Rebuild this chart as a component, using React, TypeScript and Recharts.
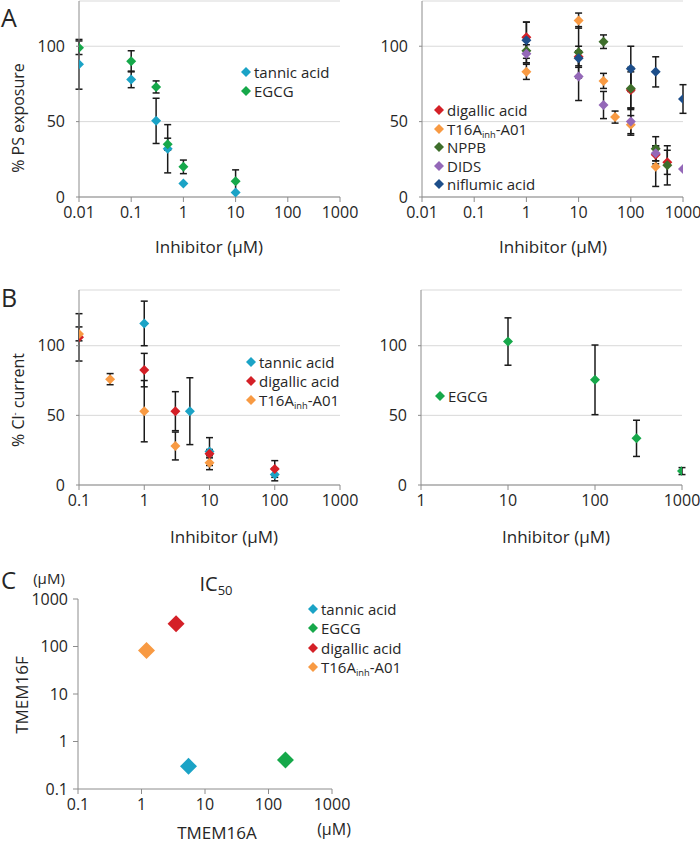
import React from "react";
import { ScatterChart, Scatter, XAxis, YAxis, CartesianGrid, ErrorBar } from "recharts";

const FONT = '"Open Sans", sans-serif';
const TEXT = "#262626";
const AXIS = "#8c8c8c";

const C_TANNIC = "#1ba3c6";
const C_EGCG = "#16a84a";
const C_DIGALLIC = "#d42027";
const C_T16A = "#f89a43";
const C_NPPB = "#3e6e2b";
const C_DIDS = "#9468b8";
const C_NIFLUMIC = "#1d4e8a";

// Panel A, left: PS exposure (%)
const aTannicDose = [0.01, 0.1, 0.3, 0.5, 1, 10];
const aTannicPct = [88, 78, 50.5, 32, 9, 3];
const aTannicErr = [16.5, 5.5, 15, 16, 0, 0];
const aEgcgDose = [0.01, 0.1, 0.3, 0.5, 1, 10];
const aEgcgPct = [99, 90, 73, 35, 20, 10.5];
const aEgcgErr = [4.5, 7, 4, 4, 4.5, 7.5];

// Panel A, right
const aDigallicDose = [1, 10, 100, 300, 500];
const aDigallicPct = [106, 93, 71, 28, 23];
const aDigallicErr = [10, 7, 12, 6, 8];
const aT16aDose = [1, 10, 30, 50, 100, 300];
const aT16aPct = [83, 117, 77, 53, 48, 20];
const aT16aErr = [5, 5, 5, 4, 6, 13];
const aNppbDose = [1, 10, 30, 100, 300, 500];
const aNppbPct = [97, 96, 103, 72, 32, 21];
const aNppbErr = [8, 17, 4.5, 14, 8, 13];
const aDidsDose = [1, 10, 30, 100, 300, 1000];
const aDidsPct = [95, 80, 61, 50, 29, 18.5];
const aDidsErr = [6, 16, 9, 9, 5, 0];
const aNiflumicDose = [1, 10, 100, 300, 1000];
const aNiflumicPct = [104, 92, 85, 83, 65];
const aNiflumicErr = [12, 5, 15, 10, 9.5];

// Panel B, left: Cl- current (%)
const bTannicDose = [1, 5, 10, 100];
const bTannicPct = [116, 53, 24, 7.5];
const bTannicErr = [16, 24, 10, 4.5];
const bDigallicDose = [0.1, 1, 3, 10, 100];
const bDigallicPct = [106, 82.5, 53, 22.5, 11.5];
const bDigallicErr = [17, 12, 14, 3, 6];
const bT16aDose = [0.1, 0.3, 1, 3, 10];
const bT16aPct = [108.5, 76, 53, 28, 16];
const bT16aErr = [5, 4, 22, 10, 5];

// Panel B, right
const bEgcgDose = [10, 100, 300, 1000];
const bEgcgPct = [103, 75.5, 33.5, 10];
const bEgcgErr = [17, 25, 13, 2.5];

// Panel C: IC50 (µM), TMEM16A vs TMEM16F
const icNames = ["tannic acid", "EGCG", "digallic acid", "T16A-A01"];
const ic16a = [5.5, 185, 3.5, 1.2];
const ic16f = [0.3, 0.41, 300, 82];
const icColors = [C_TANNIC, C_EGCG, C_DIGALLIC, C_T16A];

const ticksA = [0.01, 0.1, 1, 10, 100, 1000];
const ticksBLeft = [0.1, 1, 10, 100, 1000];
const ticksBRight = [1, 10, 100, 1000];
const ticksC = [0.1, 1, 10, 100, 1000];
const pctTicks = [0, 50, 100];

const zip = (d: number[], v: number[], e: number[]) =>
  d.map((x, i) => ({ x, y: v[i], err: e[i] }));

const diamond = (color: string, r: number) => (p: any) => {
  const { cx, cy } = p;
  if (cx == null || cy == null) return <g />;
  return (
    <polygon
      points={`${cx},${cy - r} ${cx + r},${cy} ${cx},${cy + r} ${cx - r},${cy}`}
      fill={color}
    />
  );
};

// subscript that doesn't grow the line box
const T16A = (
  <span>
    T16A
    <span style={{ fontSize: "0.62em", position: "relative", top: "0.35em" }}>inh</span>-A01
  </span>
);

interface Series {
  data: { x: number; y: number; err: number }[];
  color: string;
}

interface PanelProps {
  left: number;
  top: number;
  width: number;
  height: number;
  yAxisWidth: number;
  marginTop: number;
  marginRight: number;
  marginBottom: number;
  xDomain: [number, number];
  xTicks: number[];
  yMax: number;
  series: Series[];
}

function DosePanel(p: PanelProps) {
  const tick = { fill: TEXT, fontSize: 16, fontFamily: FONT };
  return (
    <div style={{ position: "absolute", left: p.left, top: p.top }}>
      <ScatterChart
        width={p.width}
        height={p.height}
        margin={{ top: p.marginTop, right: p.marginRight, bottom: p.marginBottom, left: 0 }}
      >
        <CartesianGrid vertical={false} stroke="#d9d9d9" />
        <XAxis
          type="number"
          dataKey="x"
          scale="log"
          domain={p.xDomain}
          ticks={p.xTicks}
          interval={0}
          allowDataOverflow
          tick={tick}
          tickSize={5}
          tickMargin={5}
          stroke={AXIS}
          height={30}
        />
        <YAxis
          type="number"
          dataKey="y"
          domain={[0, p.yMax]}
          ticks={pctTicks}
          interval={0}
          allowDataOverflow
          tick={tick}
          tickSize={3}
          tickMargin={11}
          stroke={AXIS}
          width={p.yAxisWidth}
        />
        {p.series.map((s, i) => (
          <Scatter
            key={i}
            data={s.data}
            fill={s.color}
            shape={diamond(s.color, 5)}
            isAnimationActive={false}
          >
            <ErrorBar dataKey="err" direction="y" width={3.5} stroke="#1a1a1a" strokeWidth={1.5} />
          </Scatter>
        ))}
      </ScatterChart>
    </div>
  );
}

function Label({ x, y, size, children, rotate, align = "center" }: any) {
  return (
    <div
      style={{
        position: "absolute",
        left: x,
        top: y,
        fontSize: size,
        lineHeight: 1,
        whiteSpace: "nowrap",
        transform: `translate(${align === "center" ? "-50%" : "0"}, -50%)${rotate ? " rotate(-90deg)" : ""}`,
      }}
    >
      {children}
    </div>
  );
}

function Legend({ x, y, gap, items, r = 5 }: any) {
  return (
    <>
      {items.map((it: any, i: number) => (
        <div key={i}>
          <svg
            style={{ position: "absolute", left: x - r, top: y + i * gap - r }}
            width={r * 2}
            height={r * 2}
          >
            <polygon points={`${r},0 ${2 * r},${r} ${r},${2 * r} 0,${r}`} fill={it.color} />
          </svg>
          <Label x={x + r + 3} y={y + i * gap} size={15} align="left">
            {it.name}
          </Label>
        </div>
      ))}
    </>
  );
}

export default function App() {
  const icData = ic16a.map((x, i) => ({ x, y: ic16f[i], name: icNames[i] }));
  const tickC = { fill: TEXT, fontSize: 16, fontFamily: FONT };
  return (
    <div
      style={{
        position: "absolute",
        left: 0,
        top: 0,
        width: 700,
        height: 842,
        background: "#fff",
        fontFamily: FONT,
        color: TEXT,
        overflow: "hidden",
      }}
    >
      <DosePanel
        left={0}
        top={0}
        width={362}
        height={260}
        yAxisWidth={79}
        marginTop={1}
        marginRight={22}
        marginBottom={33}
        xDomain={[0.01, 1000]}
        xTicks={ticksA}
        yMax={130}
        series={[
          { data: zip(aTannicDose, aTannicPct, aTannicErr), color: C_TANNIC },
          { data: zip(aEgcgDose, aEgcgPct, aEgcgErr), color: C_EGCG },
        ]}
      />
      <DosePanel
        left={350}
        top={0}
        width={350}
        height={260}
        yAxisWidth={72}
        marginTop={1}
        marginRight={17}
        marginBottom={33}
        xDomain={[0.01, 1000]}
        xTicks={ticksA}
        yMax={130}
        series={[
          { data: zip(aDigallicDose, aDigallicPct, aDigallicErr), color: C_DIGALLIC },
          { data: zip(aT16aDose, aT16aPct, aT16aErr), color: C_T16A },
          { data: zip(aNppbDose, aNppbPct, aNppbErr), color: C_NPPB },
          { data: zip(aDidsDose, aDidsPct, aDidsErr), color: C_DIDS },
          { data: zip(aNiflumicDose, aNiflumicPct, aNiflumicErr), color: C_NIFLUMIC },
        ]}
      />
      <DosePanel
        left={0}
        top={260}
        width={362}
        height={260}
        yAxisWidth={79}
        marginTop={30}
        marginRight={22}
        marginBottom={5}
        xDomain={[0.1, 1000]}
        xTicks={ticksBLeft}
        yMax={140}
        series={[
          { data: zip(bTannicDose, bTannicPct, bTannicErr), color: C_TANNIC },
          { data: zip(bDigallicDose, bDigallicPct, bDigallicErr), color: C_DIGALLIC },
          { data: zip(bT16aDose, bT16aPct, bT16aErr), color: C_T16A },
        ]}
      />
      <DosePanel
        left={350}
        top={260}
        width={350}
        height={260}
        yAxisWidth={71}
        marginTop={30}
        marginRight={18}
        marginBottom={5}
        xDomain={[1, 1000]}
        xTicks={ticksBRight}
        yMax={140}
        series={[{ data: zip(bEgcgDose, bEgcgPct, bEgcgErr), color: C_EGCG }]}
      />

      <div style={{ position: "absolute", left: 0, top: 560 }}>
        <ScatterChart width={360} height={282} margin={{ top: 39, right: 28, bottom: 23, left: 0 }}>
          <XAxis
            type="number"
            dataKey="x"
            scale="log"
            domain={[0.1, 1000]}
            ticks={ticksC}
            interval={0}
            allowDataOverflow
            tick={tickC}
            tickSize={5}
            tickMargin={5}
            stroke={AXIS}
            height={30}
          />
          <YAxis
            type="number"
            dataKey="y"
            scale="log"
            domain={[0.1, 1000]}
            ticks={ticksC}
            interval={0}
            allowDataOverflow
            tick={tickC}
            tickSize={5}
            tickMargin={5}
            stroke={AXIS}
            width={78}
          />
          {icData.map((d, i) => (
            <Scatter
              key={i}
              data={[d]}
              fill={icColors[i]}
              shape={diamond(icColors[i], 8.5)}
              isAnimationActive={false}
            />
          ))}
        </ScatterChart>
      </div>

      {/* panel letters */}
      <Label x={1} y={17} size={25} align="left">A</Label>
      <Label x={1} y={297} size={25} align="left">B</Label>
      <Label x={1} y={580} size={24} align="left">C</Label>

      {/* axis titles */}
      <Label x={18} y={118} size={16} rotate>% PS exposure</Label>
      <Label x={209} y={246} size={17}>Inhibitor (µM)</Label>
      <Label x={553} y={246} size={17}>Inhibitor (µM)</Label>
      <Label x={18} y={400} size={16} rotate>
        % Cl<span style={{ fontSize: "0.6em", position: "relative", top: "-0.6em" }}>-</span> current
      </Label>
      <Label x={224} y={536} size={17}>Inhibitor (µM)</Label>
      <Label x={556} y={536} size={17}>Inhibitor (µM)</Label>
      <Label x={21} y={695} size={17} rotate>TMEM16F</Label>
      <Label x={217} y={832} size={17}>TMEM16A</Label>
      <Label x={49} y={578} size={15}>(µM)</Label>
      <Label x={334} y={829} size={16}>(µM)</Label>
      <Label x={216} y={584} size={20}>
        IC<span style={{ fontSize: "0.65em", position: "relative", top: "0.3em" }}>50</span>
      </Label>

      {/* legends */}
      <Legend
        x={246}
        y={72}
        gap={19}
        items={[
          { name: "tannic acid", color: C_TANNIC },
          { name: "EGCG", color: C_EGCG },
        ]}
      />
      <Legend
        x={439}
        y={110}
        gap={18.6}
        items={[
          { name: "digallic acid", color: C_DIGALLIC },
          { name: T16A, color: C_T16A },
          { name: "NPPB", color: C_NPPB },
          { name: "DIDS", color: C_DIDS },
          { name: "niflumic acid", color: C_NIFLUMIC },
        ]}
      />
      <Legend
        x={251}
        y={362}
        gap={19}
        items={[
          { name: "tannic acid", color: C_TANNIC },
          { name: "digallic acid", color: C_DIGALLIC },
          { name: T16A, color: C_T16A },
        ]}
      />
      <Legend x={440} y={396} gap={19} items={[{ name: "EGCG", color: C_EGCG }]} />
      <Legend
        x={313}
        y={609}
        gap={19.3}
        items={icNames.map((n, i) => ({ name: i === 3 ? T16A : n, color: icColors[i] }))}
      />
    </div>
  );
}
